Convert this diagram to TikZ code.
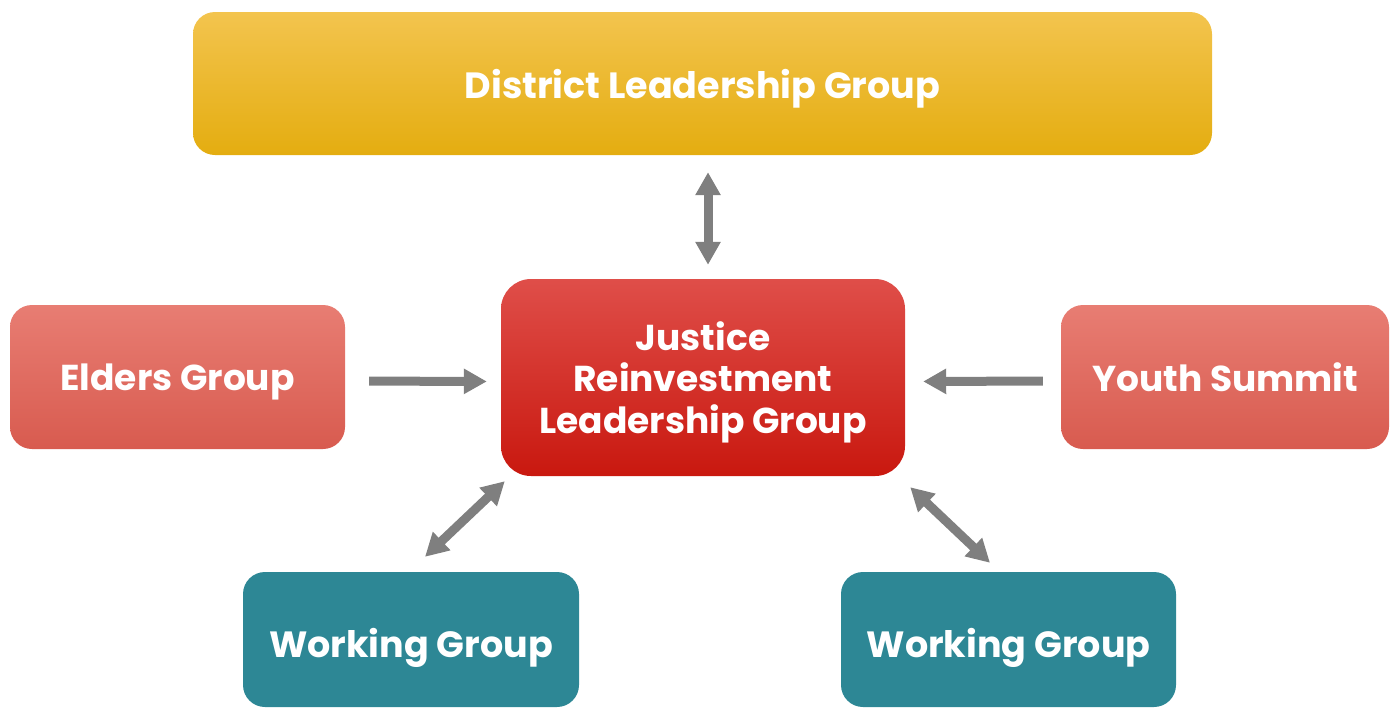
\documentclass[tikz,border=0pt]{standalone}
\usepackage{fontspec}
\setmainfont{Poppins}
\usetikzlibrary{arrows.meta}

\definecolor{linkgray}{HTML}{7F7F7F}
\definecolor{goldtop}{HTML}{F3C44E}
\definecolor{goldmid}{HTML}{F6BF20}
\definecolor{goldbot}{HTML}{E4AD10}
\definecolor{redtop}{HTML}{DF4E49}
\definecolor{redmid}{HTML}{E0251E}
\definecolor{redbot}{HTML}{C9180F}
\definecolor{salmontop}{HTML}{E87D73}
\definecolor{salmonbot}{HTML}{D85B4F}
\definecolor{teal}{HTML}{2D8795}

\begin{document}
\begin{tikzpicture}[x=1pt,y=-1pt,>={Triangle[width=24pt,length=23pt]},
  box/.style={rounded corners=22pt,text=white,align=center,inner sep=0pt,text depth=0pt,
    font=\bfseries\fontsize{36}{41.5}\selectfont},
  district/.style={box,top color=goldtop,middle color=goldmid,bottom color=goldbot,
    minimum width=1019pt,minimum height=143pt,font=\bfseries\fontsize{36.5}{44}\selectfont},
  core/.style={box,rounded corners=30pt,top color=redtop,middle color=redmid,bottom color=redbot,
    minimum width=404pt,minimum height=197pt},
  side/.style={box,top color=salmontop,bottom color=salmonbot,
    minimum width=335pt,minimum height=144pt},
  work/.style={box,fill=teal,minimum width=336pt,minimum height=135pt,text height=36pt,
    font=\bfseries\fontsize{36.5}{41.5}\selectfont},
  link/.style={<->,draw=linkgray,line width=9pt},
  feed/.style={->,draw=linkgray,line width=9pt}]

  \useasboundingbox (0,0) rectangle (1391,716);

  \node[district] (dlg) at (702.5,83.5) {District Leadership Group};
  \node[core] (jrlg) at (703,377.5) {Justice\\Reinvestment\\Leadership Group};
  \node[side] (elders) at (177.5,377) {Elders Group};
  \node[side,minimum width=328pt] (youth) at (1225,377) {Youth Summit};
  \node[work] (wg1) at (411,639.5) {Working Group};
  \node[work,minimum width=335pt] (wg2) at (1008.5,639.5) {Working Group};

  % links to the centre
  \draw[link,shorten <=17pt,shorten >=14pt] ([xshift=5.5pt]dlg.south) -- ([xshift=5pt]jrlg.north);
  \draw[feed,shorten <=24pt,shorten >=14pt] ([yshift=-4pt]elders.east) -- ([yshift=-4pt]jrlg.west);
  \draw[feed,shorten <=18pt,shorten >=18pt] ([yshift=-4pt]youth.west) -- ([yshift=-4pt]jrlg.east);
  \draw[link] ([xshift=4pt,yshift=-5pt]jrlg.south west) -- ([xshift=14pt,yshift=15pt]wg1.north);
  \draw[link] ([xshift=5pt,yshift=-11pt]jrlg.south east) -- ([xshift=-18.5pt,yshift=9pt]wg2.north);
\end{tikzpicture}
\end{document}
